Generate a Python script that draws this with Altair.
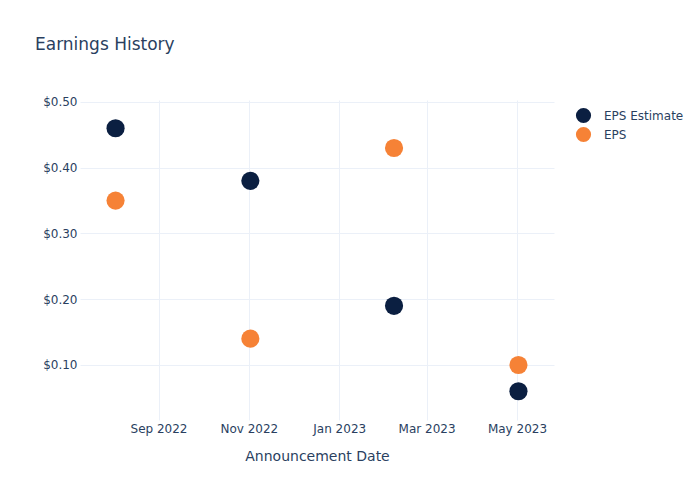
import altair as alt
import pandas as pd

dates = ["2022-08-03", "2022-11-02", "2023-02-07", "2023-05-02"]
eps_estimate = [0.46, 0.38, 0.19, 0.06]
eps_actual = [0.35, 0.14, 0.43, 0.10]
series = ["EPS Estimate", "EPS"]
colors = ["#0b1f41", "#f68236"]
y_ticks = [0.1, 0.2, 0.3, 0.4, 0.5]

rows = []
for d, v in zip(dates, eps_estimate):
    rows.append({"date": d, "value": v, "series": series[0]})
for d, v in zip(dates, eps_actual):
    rows.append({"date": d, "value": v, "series": series[1]})
df = pd.DataFrame(rows)

tick_dates = [
    alt.DateTime(year=2022, month=9, date=1, utc=True),
    alt.DateTime(year=2022, month=11, date=1, utc=True),
    alt.DateTime(year=2023, month=1, date=1, utc=True),
    alt.DateTime(year=2023, month=3, date=1, utc=True),
    alt.DateTime(year=2023, month=5, date=1, utc=True),
]

font = "DejaVu Sans"
txt = "#2a3f5f"
grid = "#ebf0f8"

chart = alt.Chart(df).mark_circle(size=330, opacity=1).encode(
    x=alt.X(
        "date:T",
        title="Announcement Date",
        scale=alt.Scale(
            type="utc",
            domain=[
                alt.DateTime(year=2022, month=7, date=10, utc=True),
                alt.DateTime(year=2023, month=5, date=26, utc=True),
            ],
        ),
        axis=alt.Axis(
            values=tick_dates,
            labelExpr="utcFormat(datum.value, '%b %Y')",
            domain=False,
            ticks=False,
            labelPadding=3,
            labelFontSize=12,
            labelColor=txt,
            labelFont=font,
            titleFont=font,
            titleFontSize=14,
            titleFontWeight="normal",
            titleColor=txt,
            titlePadding=15,
            gridColor=grid,
            labelFlush=False,
        ),
    ),
    y=alt.Y(
        "value:Q",
        title=None,
        scale=alt.Scale(domain=[0.0163, 0.503], nice=False, zero=False),
        axis=alt.Axis(
            values=y_ticks,
            format="$.2f",
            domain=False,
            ticks=False,
            labelPadding=3,
            labelFontSize=12,
            labelColor=txt,
            labelFont=font,
            gridColor=grid,
        ),
    ),
    color=alt.Color(
        "series:N",
        scale=alt.Scale(domain=series, range=colors),
        sort=series,
        legend=alt.Legend(
            title=None,
            orient="none",
            legendX=495,
            legendY=7,
            symbolSize=230,
            symbolType="circle",
            symbolOpacity=1,
            labelFontSize=12,
            labelFont=font,
            labelColor=txt,
            labelOffset=12,
            rowPadding=2,
        ),
    ),
).properties(
    width=474,
    height=320,
    title=alt.TitleParams(
        "Earnings History",
        anchor="start",
        frame="group",
        dx=-45,
        fontSize=17,
        font=font,
        fontWeight="normal",
        color=txt,
        offset=42,
    ),
    autosize=alt.AutoSizeParams(type="none"),
    padding={"left": 80, "top": 100, "right": 146, "bottom": 80},
).configure_view(stroke=None)

chart.save("out.html", embed_options={"renderer": "svg", "actions": False})
